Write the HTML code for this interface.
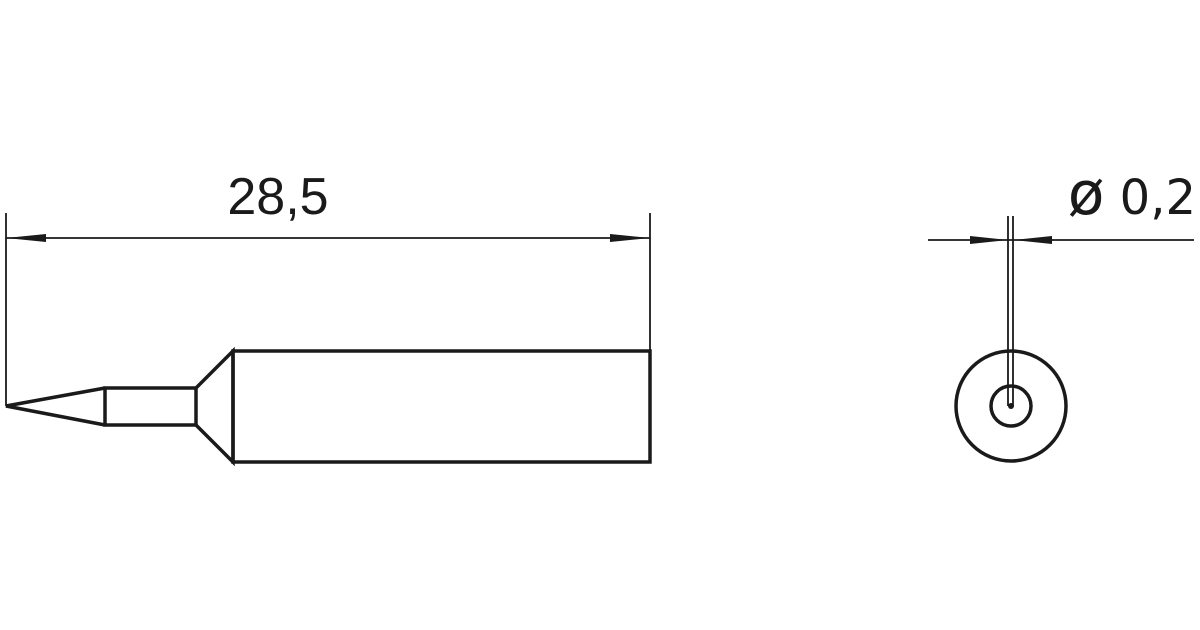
<!DOCTYPE html>
<html><head><style>body{margin:0;background:#fff}svg{display:block}</style></head><body>
<svg width="1200" height="630" viewBox="0 0 1200 630" xmlns="http://www.w3.org/2000/svg">
<g stroke="#1a1a1a" fill="none" stroke-width="3.5" stroke-linejoin="miter">
<polyline points="105,388 6,406 105,425"/>
<rect x="105" y="388" width="91" height="37"/>
<polyline points="196,388 233,351 233,462 196,425"/>
<rect x="233" y="351" width="417" height="111"/>
<circle cx="1011" cy="406" r="55"/>
<circle cx="1011" cy="406" r="20"/>
</g>
<g stroke="#1a1a1a" stroke-width="1.8" fill="none">
<line x1="6" y1="213" x2="6" y2="406"/>
<line x1="650" y1="213" x2="650" y2="351"/>
<line x1="6" y1="238" x2="650" y2="238"/>
<line x1="1008" y1="216" x2="1008" y2="406"/>
<line x1="1013" y1="216" x2="1013" y2="406"/>
<line x1="928" y1="240" x2="1194" y2="240"/>
</g>
<g fill="#1a1a1a">
<polygon points="6,238 46,234 46,242"/>
<polygon points="650,238 610,234 610,242"/>
<polygon points="1008,240 970,236 970,244"/>
<polygon points="1013,240 1052,236 1052,244"/>
<circle cx="1011" cy="406" r="3"/>
</g>
<text x="278" y="214" font-family="Liberation Sans, sans-serif" font-size="52" text-anchor="middle" fill="#1a1a1a">28,5</text>
<text x="1196" y="214" font-family="DejaVu Sans, sans-serif" font-size="48" text-anchor="end" fill="#1a1a1a"><tspan font-size="60">ø</tspan> 0,2</text>
</svg>
</body></html>
